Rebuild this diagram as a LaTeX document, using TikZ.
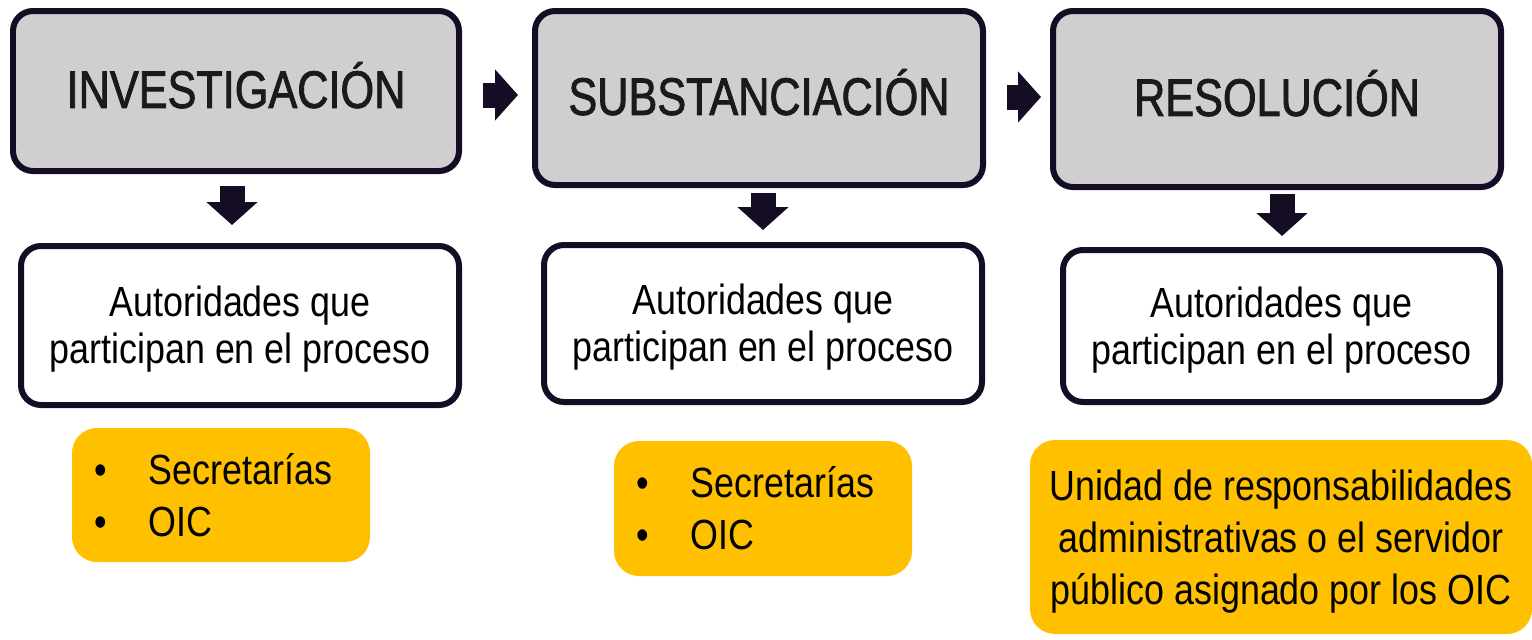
\documentclass[tikz,border=0pt]{standalone}
\usepackage{fontspec}
\setmainfont{Liberation Sans}[FakeStretch=0.85]
\newfontfamily\titulo{Liberation Sans}[FakeStretch=0.82, FakeBold=1.6]
\usetikzlibrary{arrows.meta}

\definecolor{borde}{HTML}{140D24}
\definecolor{gris}{HTML}{D0CECE}
\definecolor{naranja}{HTML}{FFC000}
\definecolor{texto}{HTML}{1A1A1A}

\tikzset{
  etapa/.style={draw=borde, line width=0.12cm, fill=gris, rounded corners=0.4cm,
    text=texto, font=\titulo\fontsize{30}{36}\selectfont, inner sep=0pt},
  autor/.style={draw=borde, line width=0.12cm, fill=white, rounded corners=0.4cm,
    align=center, font=\fontsize{24}{26.7}\selectfont, inner sep=0pt},
  lista/.style={fill=naranja, rounded corners=0.5cm, inner sep=0pt,
    font=\fontsize{24}{29.6}\selectfont},
  flecha/.style={draw=borde, line width=0.5cm, -{Triangle[length=0.46cm, width=1.0cm]}}
}

\newcommand{\punto}{\makebox[1.08cm][l]{\textbullet}}
\newcommand{\alto}[1]{\raisebox{0.24cm}{#1}}

\begin{document}
\begin{tikzpicture}
  \useasboundingbox (0,0) rectangle (30.64,-12.78);

  % Etapas
  \node[etapa, minimum width=8.92cm, minimum height=3.2cm] (inv) at (4.72,-1.82) {\alto{INVESTIGACIÓN}};
  \node[etapa, minimum width=8.96cm, minimum height=3.48cm] (sub) at (15.18,-1.96) {\alto{SUBSTANCIACIÓN}};
  \node[etapa, minimum width=8.96cm, minimum height=3.52cm] (res) at (25.54,-1.98) {\alto{RESOLUCIÓN}};

  % Autoridades
  \node[autor, minimum width=8.76cm, minimum height=3.18cm] (aut1) at (4.8,-6.51)
    {\rule{0pt}{0.9em}Autoridades que\\participan en el proceso};
  \node[autor, minimum width=8.76cm, minimum height=3.14cm] (aut2) at (15.26,-6.47)
    {\rule{0pt}{0.9em}Autoridades que\\participan en el proceso};
  \node[autor, minimum width=8.74cm, minimum height=3.04cm] (aut3) at (25.63,-6.52)
    {\rule{0pt}{0.9em}Autoridades que\\participan en el proceso};

  % Listas
  \node[lista, minimum width=5.96cm, minimum height=2.68cm] (lst1) at (4.42,-9.9) {};
  \node[anchor=west, align=left, font=\fontsize{24}{29.6}\selectfont] (txt1)
    at ([xshift=0.34cm]lst1.west) {\punto Secretarías\\\punto OIC};
  \node[lista, minimum width=5.96cm, minimum height=2.7cm] (lst2) at (15.26,-10.17) {};
  \node[anchor=west, align=left, font=\fontsize{24}{29.6}\selectfont] (txt2)
    at ([xshift=0.34cm]lst2.west) {\punto Secretarías\\\punto OIC};
  \node[lista, minimum width=10.04cm, minimum height=3.88cm, align=center] (lst3) at (25.62,-10.74)
    {\rule{0pt}{0.95em}Unidad de responsabilidades\\administrativas o el servidor\\público asignado por los OIC};

  % Flechas
  \draw[flecha] ([xshift=0.42cm, yshift=-0.08cm]inv.east) -- ([xshift=-0.28cm, yshift=-0.08cm]sub.west |- inv.east);
  \draw[flecha] ([xshift=0.42cm, yshift=0.02cm]sub.east) -- ([xshift=-0.18cm, yshift=0.02cm]res.west |- sub.east);
  \draw[flecha] ([xshift=-0.08cm, yshift=-0.24cm]inv.south) -- ([xshift=-0.08cm, yshift=0.36cm]inv.south |- aut1.north);
  \draw[flecha] ([xshift=0.08cm, yshift=-0.1cm]sub.south) -- ([xshift=0.08cm, yshift=0.24cm]sub.south |- aut2.north);
  \draw[flecha] ([xshift=0.1cm, yshift=-0.08cm]res.south) -- ([xshift=0.1cm, yshift=0.22cm]res.south |- aut3.north);
\end{tikzpicture}
\end{document}
